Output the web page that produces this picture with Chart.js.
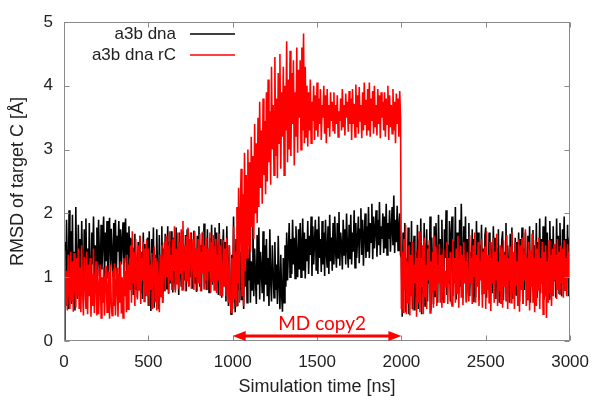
<!DOCTYPE html>
<html><head><meta charset="utf-8">
<script src="https://cdn.jsdelivr.net/npm/chart.js@4/dist/chart.umd.min.js"></script>
<style>html,body{margin:0;padding:0;background:#fff}#wrap{width:600px;height:400px}</style>
</head><body><div id="wrap"><canvas id="c" width="600" height="400"></canvas></div>
<script>
const seriesLabels = ['a3b dna', 'a3b dna rC'];
const seriesColors = ['#000000', '#ff0000'];
const timeStepNs = 5;
const a3bDna = [
0, 1.55, 0.62, 1.9, 1.1, 0.5, 2.05, 0.85, 1.72, 0.58,
1.98, 0.75, 1.4, 0.48, 2.1, 1.05, 0.66, 1.82, 0.9, 1.6,
0.7, 1.88, 1.15, 0.64, 1.75, 0.95, 1.92, 0.8, 1.45, 0.72,
1.85, 1.0, 0.68, 1.7, 1.2, 1.95, 0.85, 1.5, 1.05, 1.78,
1.02, 1.9, 1.3, 0.95, 1.82, 1.12, 1.6, 1.95, 1.0, 1.7,
1.25, 1.88, 0.98, 1.55, 1.93, 1.08, 1.76, 1.35, 1.0, 1.85,
1.15, 1.9, 1.02, 1.65, 1.4, 1.88, 0.97, 1.75, 1.2, 1.58,
1.86, 1.05, 1.5, 1.92, 1.1, 1.7, 0.96, 1.8, 1.3, 1.62,
0.9, 1.6, 0.72, 1.45, 1.68, 0.8, 1.3, 0.68, 1.55, 1.0,
1.65, 0.75, 1.4, 0.66, 1.7, 0.9, 1.52, 0.7, 1.2, 1.62,
0.55, 1.72, 1.0, 0.47, 1.6, 0.8, 1.78, 0.52, 1.35, 0.62,
1.75, 0.9, 0.5, 1.66, 1.1, 0.72, 1.8, 0.6, 1.45, 0.78,
1.68, 0.82, 1.3, 1.8, 0.74, 1.55, 0.9, 1.72, 1.05, 0.76,
1.62, 1.1, 0.8, 1.78, 0.95, 1.5, 0.72, 1.7, 1.2, 0.85,
1.72, 0.8, 1.4, 0.95, 1.66, 0.78, 1.75, 1.1, 0.86, 1.6,
1.0, 1.7, 0.82, 1.48, 1.73, 0.9, 1.3, 0.77, 1.65, 1.05,
1.8, 0.85, 1.5, 0.78, 1.7, 1.15, 1.84, 0.9, 1.4, 0.8,
1.75, 1.0, 0.76, 1.62, 1.2, 1.82, 0.88, 1.55, 0.95, 1.78,
0.8, 1.7, 1.05, 0.72, 1.85, 0.95, 1.6, 0.68, 1.4, 1.75,
0.9, 1.55, 0.62, 1.8, 1.1, 0.55, 1.5, 0.8, 0.42, 1.35,
0.6, 1.95, 0.9, 0.45, 1.6, 1.2, 0.55, 1.88, 0.8, 1.4,
0.65, 1.75, 1.0, 0.5, 1.62, 0.85, 1.82, 0.6, 1.3, 0.95,
1.7, 0.6, 1.25, 0.8, 1.85, 0.7, 1.45, 1.0, 0.58, 1.66,
0.9, 1.78, 0.65, 1.4, 1.1, 0.75, 1.72, 0.62, 1.5, 0.88,
1.6, 0.7, 1.3, 0.55, 1.75, 0.95, 0.62, 1.5, 1.1, 0.68,
1.55, 0.8, 1.2, 0.58, 1.65, 0.9, 0.5, 1.35, 0.72, 0.46,
1.3, 0.6, 1.5, 0.85, 1.7, 0.95, 1.4, 1.85, 1.0, 1.6,
1.05, 1.9, 1.2, 1.62, 0.98, 1.8, 1.3, 1.0, 1.75, 1.12,
1.85, 1.0, 1.5, 1.92, 1.1, 1.7, 0.98, 1.6, 1.25, 1.88,
1.05, 1.65, 1.35, 1.95, 1.02, 1.8, 1.2, 1.55, 1.9, 1.1,
1.75, 1.05, 1.95, 1.3, 1.6, 1.08, 1.88, 1.2, 1.7, 1.02,
1.9, 1.4, 1.15, 1.8, 1.05, 1.98, 1.25, 1.62, 1.1, 1.85,
1.2, 1.95, 1.4, 1.15, 1.85, 1.3, 2.02, 1.18, 1.7, 1.5,
1.12, 1.9, 1.35, 1.75, 1.2, 2.0, 1.45, 1.15, 1.82, 1.28,
1.98, 1.2, 1.7, 1.4, 2.05, 1.15, 1.85, 1.3, 1.6, 1.95,
1.22, 1.75, 2.08, 1.35, 1.9, 1.18, 1.65, 2.0, 1.3, 1.8,
1.4, 2.1, 1.3, 1.85, 1.55, 2.15, 1.28, 1.95, 1.45, 1.75,
2.05, 1.32, 1.9, 1.5, 2.18, 1.35, 1.8, 1.6, 2.0, 1.38,
1.95, 1.45, 2.15, 1.35, 1.85, 1.6, 2.05, 1.4, 1.75, 2.1,
1.5, 2.28, 1.38, 1.9, 1.55, 2.12, 1.42, 1.8, 2.0, 1.35,
1.3, 0.38, 1.7, 0.9, 1.85, 0.45, 1.3, 0.6, 1.78, 0.42,
1.55, 0.8, 1.88, 0.5, 1.2, 1.65, 0.48, 1.4, 0.7, 1.82,
0.5, 1.6, 1.0, 1.92, 0.42, 1.45, 0.75, 1.85, 0.55, 1.3,
1.75, 0.62, 1.5, 0.9, 1.95, 0.48, 1.62, 1.1, 0.58, 1.8,
0.7, 1.85, 1.2, 0.6, 1.98, 0.95, 1.6, 0.65, 1.9, 1.05,
0.6, 1.75, 1.3, 2.05, 0.72, 1.5, 0.9, 1.88, 0.62, 1.68,
1.95, 0.7, 1.55, 1.0, 2.1, 0.65, 1.7, 1.25, 0.75, 1.9,
0.85, 2.15, 1.3, 0.68, 1.8, 1.05, 1.95, 0.62, 1.6, 0.9,
1.85, 0.7, 1.4, 0.95, 1.75, 0.62, 1.6, 1.1, 0.68, 1.88,
1.0, 1.7, 0.65, 1.5, 1.2, 1.82, 0.72, 1.45, 0.9, 1.65,
1.78, 0.68, 1.3, 0.9, 1.7, 0.62, 1.55, 1.05, 0.75, 1.8,
1.1, 1.62, 0.66, 1.45, 0.85, 1.75, 0.6, 1.38, 1.0, 1.58,
1.72, 0.64, 1.4, 0.95, 1.85, 0.7, 1.5, 1.12, 0.6, 1.68,
0.9, 1.78, 0.66, 1.35, 1.05, 1.62, 0.72, 1.55, 0.85, 1.7,
0.62, 1.6, 1.0, 1.78, 0.58, 1.45, 0.8, 1.7, 1.15, 0.65,
1.65, 0.9, 1.8, 0.6, 1.35, 1.05, 1.74, 0.7, 1.5, 0.95,
1.85, 0.68, 1.55, 1.1, 1.92, 0.75, 1.6, 0.9, 1.8, 0.65,
1.45, 1.95, 0.8, 1.7, 1.2, 0.66, 1.88, 1.0, 1.6, 0.72,
1.8, 0.95, 1.5, 0.68, 1.92, 1.1, 1.65, 0.75, 1.85, 1.0,
0.7, 1.75, 1.3, 1.95, 0.8, 1.6, 1.05, 1.82, 0.7, 1.55,
1.7
];
const a3bDnaRC = [
0, 1.42, 0.55, 1.1, 0.48, 1.35, 0.8, 0.5, 1.4, 0.62,
1.25, 0.46, 1.38, 0.9, 0.52, 1.3, 0.7, 1.45, 0.5, 1.15,
0.45, 1.5, 0.8, 0.4, 1.32, 0.95, 0.5, 1.4, 0.42, 1.2,
0.7, 1.3, 0.38, 1.05, 0.55, 1.45, 0.44, 0.9, 1.25, 0.4,
1.12, 0.42, 0.85, 1.2, 0.36, 1.0, 0.6, 1.15, 0.4, 0.95,
1.18, 0.45, 0.8, 1.08, 0.35, 1.2, 0.62, 0.4, 1.1, 0.55,
1.22, 0.4, 0.9, 1.15, 0.38, 1.05, 0.6, 1.25, 0.43, 1.0,
0.36, 1.3, 0.7, 1.1, 0.45, 1.35, 0.5, 1.2, 0.8, 1.5,
0.6, 1.72, 0.9, 1.4, 0.55, 1.6, 1.1, 0.65, 1.5, 0.8,
1.65, 0.58, 1.3, 0.95, 1.55, 0.62, 1.45, 0.75, 1.6, 0.7,
1.45, 0.55, 1.2, 0.8, 1.38, 0.5, 1.1, 1.48, 0.62, 1.3,
0.48, 1.25, 0.9, 0.45, 1.35, 0.7, 1.5, 0.6, 1.2, 1.55,
0.78, 1.65, 1.0, 1.5, 0.75, 1.72, 0.95, 1.35, 0.8, 1.6,
1.1, 1.8, 0.76, 1.45, 0.9, 1.7, 0.82, 1.55, 1.05, 1.75,
0.8, 1.88, 1.1, 1.5, 0.78, 1.65, 0.95, 1.78, 0.85, 1.4,
1.7, 0.82, 1.3, 1.6, 0.8, 1.72, 1.0, 1.45, 0.78, 1.6,
0.9, 1.68, 0.78, 1.4, 1.05, 1.72, 0.82, 1.5, 0.95, 1.62,
0.8, 1.45, 1.1, 1.7, 0.76, 1.55, 0.92, 1.66, 0.8, 1.4,
1.6, 0.75, 1.35, 0.95, 1.68, 0.72, 1.5, 1.0, 0.7, 1.58,
0.85, 1.45, 0.7, 1.62, 0.95, 0.6, 1.5, 0.75, 0.45, 1.3,
0.5, 1.8, 0.65, 1.4, 0.55, 2.1, 0.9, 2.4, 0.6, 2.0,
2.7, 0.7, 2.3, 0.55, 2.95, 1.1, 2.6, 1.3, 3.0, 1.5,
2.8, 1.4, 3.2, 1.8, 2.9, 1.6, 3.4, 2.0, 3.1, 1.85,
3.5, 2.1, 3.75, 2.4, 3.3, 2.15, 3.8, 2.6, 3.45, 2.3,
3.9, 2.5, 4.1, 2.8, 3.6, 2.45, 4.3, 3.0, 3.7, 2.6,
4.45, 2.9, 3.8, 2.55, 4.2, 3.1, 4.5, 2.7, 3.9, 3.2,
4.3, 2.6, 4.0, 3.3, 4.7, 2.8, 4.1, 3.0, 4.55, 2.9,
4.2, 3.4, 4.4, 2.75, 3.9, 3.2, 4.6, 2.95, 4.25, 3.5,
4.4, 3.0, 4.6, 3.3, 4.82, 3.1, 4.3, 3.2, 4.0, 3.05,
3.9, 3.3, 4.1, 3.1, 3.75, 3.45, 4.0, 3.15, 3.85, 3.3,
4.05, 3.2, 3.8, 3.4, 3.95, 3.15, 3.7, 3.5, 4.0, 3.25,
3.85, 3.1, 3.95, 3.35, 3.7, 3.2, 3.9, 3.45, 3.75, 3.3,
3.9, 3.25, 3.7, 3.4, 3.85, 3.2, 3.6, 3.45, 3.8, 3.3,
3.95, 3.35, 3.7, 3.22, 3.88, 3.5, 3.75, 3.28, 3.92, 3.4,
3.8, 3.15, 3.95, 3.4, 3.72, 3.2, 4.02, 3.35, 3.85, 3.25,
3.98, 3.45, 3.7, 3.18, 3.9, 3.3, 4.05, 3.4, 3.78, 3.22,
3.95, 3.3, 4.05, 3.2, 3.8, 3.45, 3.92, 3.25, 4.0, 3.35,
3.7, 3.22, 3.95, 3.4, 3.85, 3.18, 3.9, 3.5, 3.75, 3.3,
3.9, 3.2, 3.8, 3.4, 4.0, 3.15, 3.85, 3.35, 3.7, 3.25,
3.95, 3.3, 3.75, 3.1, 3.88, 3.4, 3.8, 3.2, 3.92, 3.5,
0.5, 1.4, 0.45, 1.6, 0.8, 1.82, 0.42, 1.25, 0.6, 1.5,
0.4, 1.35, 0.7, 1.55, 0.48, 1.2, 0.9, 1.45, 0.38, 1.3,
0.6, 1.72, 0.45, 1.3, 0.85, 1.5, 0.42, 1.62, 0.7, 1.2,
0.5, 1.45, 0.95, 1.58, 0.44, 1.25, 0.75, 1.4, 0.52, 1.65,
0.8, 1.48, 0.55, 1.2, 0.9, 1.52, 0.6, 1.35, 0.52, 1.25,
1.45, 0.6, 1.1, 0.85, 1.55, 0.58, 1.3, 0.95, 1.4, 0.62,
0.55, 1.6, 0.9, 1.3, 0.6, 1.45, 0.75, 1.65, 0.52, 1.2,
1.5, 0.68, 1.35, 0.56, 1.55, 0.9, 1.25, 0.6, 1.4, 0.8,
0.62, 1.66, 0.9, 1.3, 0.58, 1.5, 1.0, 1.7, 0.6, 1.35,
0.85, 1.55, 0.55, 1.25, 0.95, 1.6, 0.52, 1.4, 0.75, 1.48,
0.5, 1.72, 0.8, 1.35, 0.6, 1.55, 0.47, 1.3, 0.9, 1.62,
0.6, 1.4, 0.95, 1.68, 0.55, 1.25, 0.78, 1.5, 0.58, 1.45,
0.52, 1.58, 0.85, 1.35, 0.62, 1.66, 0.5, 1.3, 0.95, 1.48,
0.6, 1.7, 0.75, 1.4, 0.5, 1.55, 0.88, 1.25, 0.55, 1.6,
0.46, 1.5, 0.8, 1.62, 0.58, 1.35, 0.95, 1.75, 0.55, 1.3,
0.65, 1.55, 0.48, 1.42, 0.85, 1.68, 0.6, 1.3, 0.45, 1.58,
0.55, 1.45, 0.8, 1.62, 0.5, 1.3, 0.9, 1.55, 0.42, 1.4,
0.7, 1.5, 0.36, 1.25, 0.6, 1.58, 0.75, 1.35, 0.55, 1.45,
0.7, 1.52, 0.95, 1.35, 0.66, 1.6, 0.8, 1.4, 0.72, 1.5,
0.9, 1.45, 0.68, 1.58, 0.8, 1.3, 0.7, 1.52, 1.0, 1.4,
0.9
];
const xTickValues = [0, 500, 1000, 1500, 2000, 2500, 3000];
const yTickValues = [0, 1, 2, 3, 4, 5];
const annotationRange = [1000, 2000];
const annotationY = 0.08;
const annotationTextT = 1530;
const annotationText = 'MD copy2';
const xTitle = 'Simulation time [ns]';
const yTitle = 'RMSD of target C [Å]';

const FONT = "'Liberation Sans', Arial, sans-serif";
Chart.defaults.font.family = FONT;

function toPoints(vals) { return vals.map((v, i) => ({x: i * timeStepNs, y: v})); }

const framePlugin = {
  id: 'frameAndExtras',
  afterDatasetsDraw(chart) {
    const {ctx, chartArea: a, scales: {x, y}} = chart;
    ctx.save();
    const L = Math.round(a.left) + 0.5, R = Math.round(a.right) - 0.5;
    const T = Math.round(a.top) + 0.5, B = Math.round(a.bottom) - 0.5;
    ctx.strokeStyle = '#8a8a8a';
    ctx.lineWidth = 1;
    ctx.strokeRect(L, T, R - L, B - T);
    ctx.beginPath();
    xTickValues.forEach(v => {
      const px = Math.round(x.getPixelForValue(v)) + 0.5;
      ctx.moveTo(px, B); ctx.lineTo(px, B - 5);
      ctx.moveTo(px, T); ctx.lineTo(px, T + 5);
    });
    yTickValues.forEach(v => {
      const py = Math.round(y.getPixelForValue(v)) + 0.5;
      ctx.moveTo(L, py); ctx.lineTo(L + 5, py);
      ctx.moveTo(R, py); ctx.lineTo(R - 5, py);
    });
    ctx.stroke();

    // legend
    ctx.font = '17px ' + FONT;
    ctx.textAlign = 'right';
    ctx.textBaseline = 'middle';
    chart.data.datasets.forEach((ds, i) => {
      const yy = a.top + 12 + i * 21;
      ctx.fillStyle = '#222';
      ctx.fillText(ds.label, a.left + 112, yy);
      ctx.strokeStyle = ds.borderColor;
      ctx.lineWidth = 1.5;
      ctx.beginPath();
      ctx.moveTo(a.left + 126, yy);
      ctx.lineTo(a.left + 171, yy);
      ctx.stroke();
    });

    // annotation arrow
    const yy = y.getPixelForValue(annotationY);
    const x1 = x.getPixelForValue(annotationRange[0]);
    const x2 = x.getPixelForValue(annotationRange[1]);
    ctx.strokeStyle = '#ff0000';
    ctx.fillStyle = '#ff0000';
    ctx.lineWidth = 3;
    ctx.beginPath();
    ctx.moveTo(x1 + 10, yy); ctx.lineTo(x2 - 10, yy);
    ctx.stroke();
    ctx.beginPath();
    ctx.moveTo(x1, yy); ctx.lineTo(x1 + 13, yy - 5); ctx.lineTo(x1 + 13, yy + 5); ctx.closePath();
    ctx.moveTo(x2, yy); ctx.lineTo(x2 - 13, yy - 5); ctx.lineTo(x2 - 13, yy + 5); ctx.closePath();
    ctx.fill();
    ctx.font = '19px Lato, ' + FONT;
    ctx.textAlign = 'center';
    ctx.textBaseline = 'alphabetic';
    ctx.fillText(annotationText, x.getPixelForValue(annotationTextT), yy - 6);
    ctx.restore();
  }
};

new Chart(document.getElementById('c'), {
  type: 'line',
  data: {
    datasets: [
      {label: seriesLabels[0], data: toPoints(a3bDna), borderColor: seriesColors[0], borderWidth: 1.6, pointRadius: 0, tension: 0, order: 1},
      {label: seriesLabels[1], data: toPoints(a3bDnaRC), borderColor: seriesColors[1], borderWidth: 1.6, pointRadius: 0, tension: 0, order: 0}
    ]
  },
  options: {
    responsive: false,
    animation: false,
    devicePixelRatio: 1,
    layout: {padding: {top: 22, right: 25, left: 0, bottom: 0}},
    plugins: {legend: {display: false}, tooltip: {enabled: false}},
    scales: {
      x: {
        type: 'linear', min: 0, max: 3000,
        ticks: {stepSize: 500, autoSkip: false, maxRotation: 0, padding: 11, color: '#222', font: {size: 17}, callback: v => String(v)},
        grid: {display: false, drawTicks: false},
        border: {display: false},
        title: {display: true, text: xTitle, color: '#222', font: {size: 18}, padding: {top: 0, bottom: 2}},
        afterFit(s) { s.height = 59; }
      },
      y: {
        min: 0, max: 5,
        ticks: {stepSize: 1, padding: 11, color: '#222', font: {size: 17}, callback: v => String(v)},
        grid: {display: false, drawTicks: false},
        border: {display: false},
        title: {display: true, text: yTitle, color: '#222', font: {size: 18}, padding: {top: 7, bottom: 0}},
        afterFit(s) { s.width = 64; }
      }
    }
  },
  plugins: [framePlugin]
});
</script>
</body></html>
